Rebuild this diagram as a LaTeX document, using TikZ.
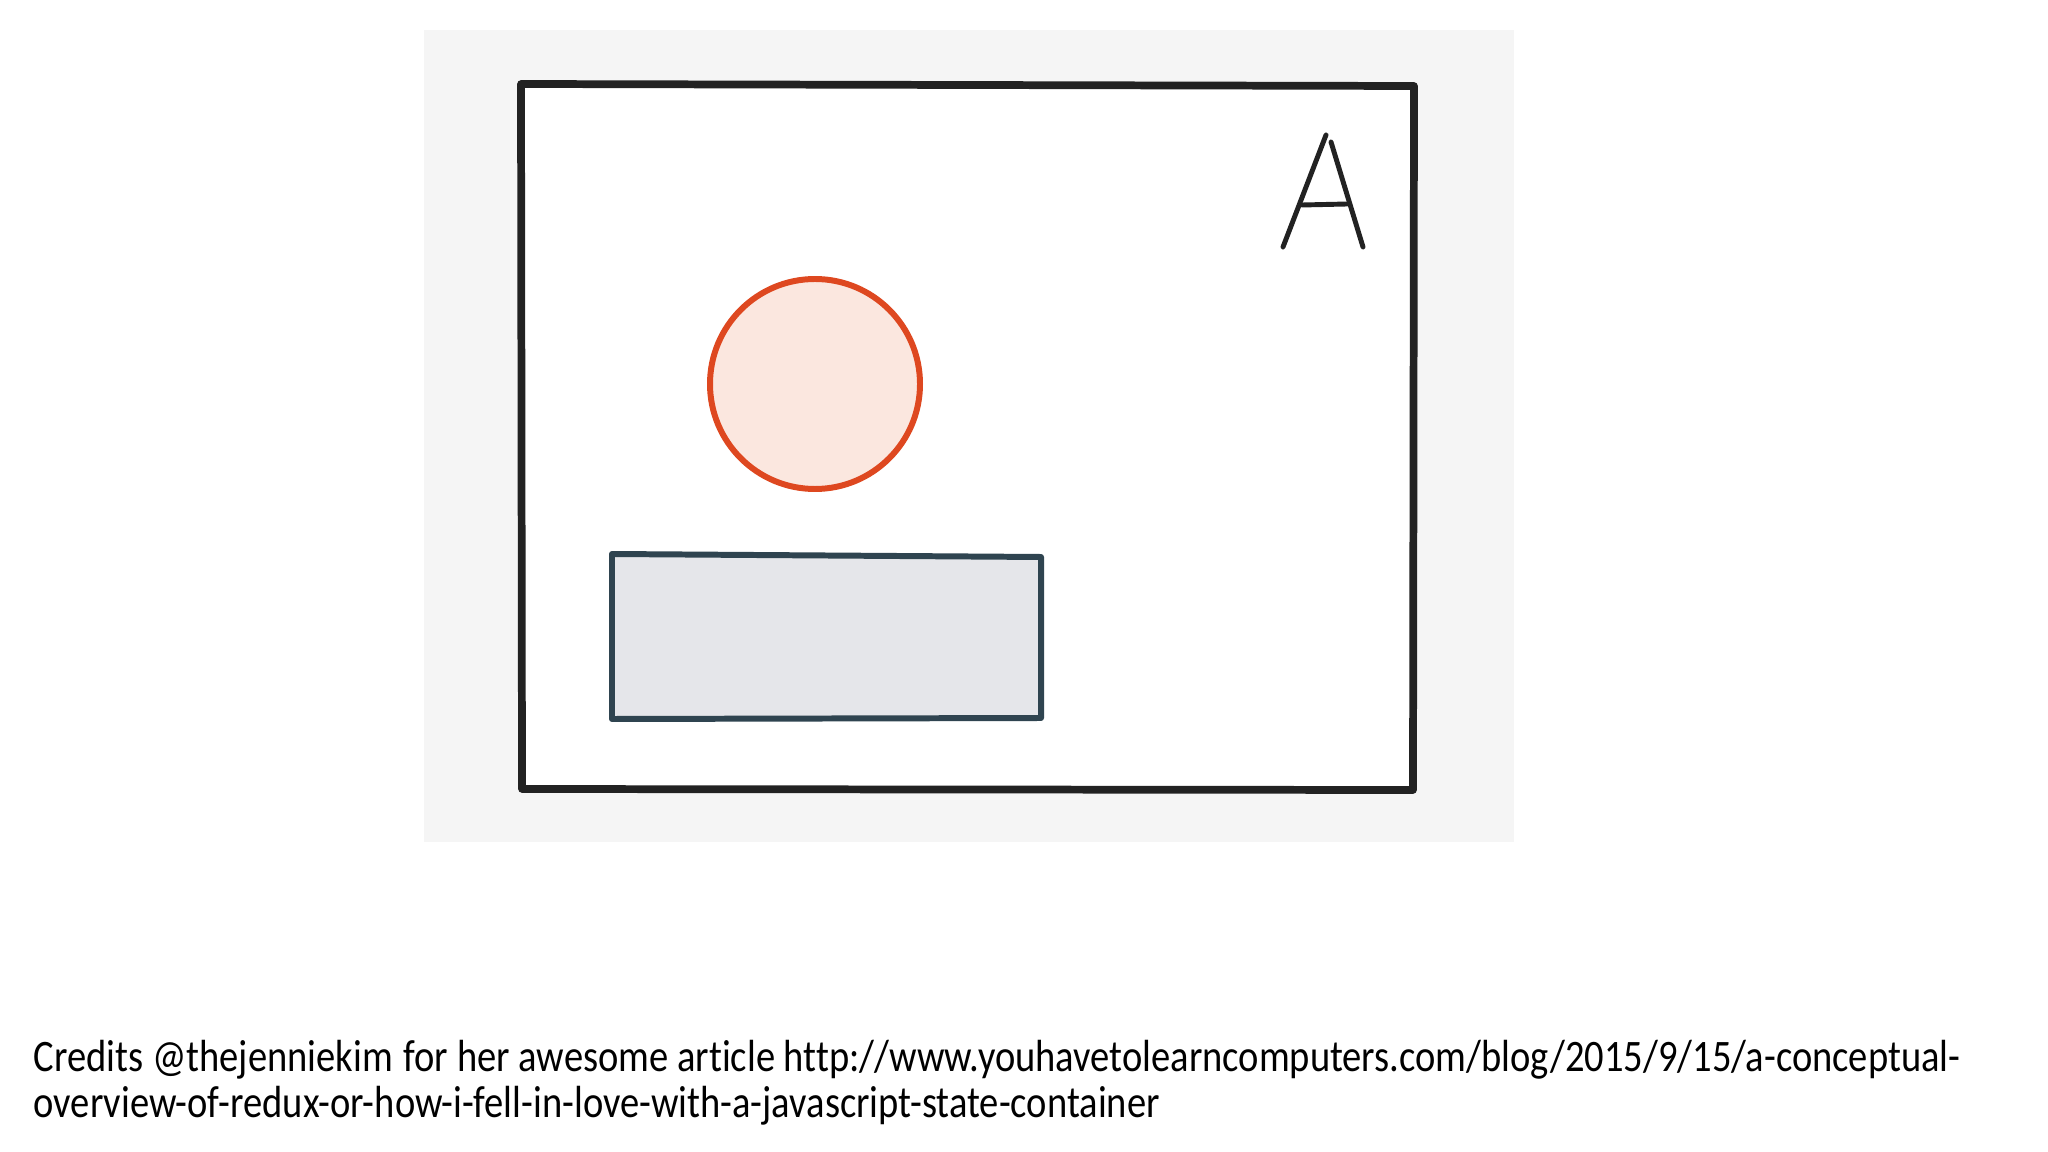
\documentclass[tikz,border=0pt]{standalone}
\usepackage{fontspec}
\setmainfont{Carlito}
\newfontfamily\creditsfont[FakeStretch=0.856, Ligatures=NoCommon]{Carlito}
\usepackage{tikz}
\definecolor{fondo}{RGB}{245,245,245}
\definecolor{marco}{RGB}{34,34,34}
\definecolor{rojizo}{RGB}{222,72,32}
\definecolor{rosado}{RGB}{251,231,223}
\definecolor{pizarra}{RGB}{47,68,80}
\definecolor{grisazul}{RGB}{229,230,234}

\begin{document}
\begin{tikzpicture}[x=0.01cm, y=-0.01cm]
    \useasboundingbox (0,0) rectangle (2048,1152);

    % FONDO
    \fill[fondo] (424,30) rectangle (1514,842);

    % MARCO
    \filldraw[color=marco, fill=white, line width=2.2pt, line join=round] (521,84) -- (1414,86) -- (1413,790) -- (522,789) -- cycle;

    % LETRA A
    \draw[marco, line width=1.4pt, line cap=round] (1283,247) -- (1326,135);
    \draw[marco, line width=1.4pt, line cap=round] (1331,142) -- (1363,247);
    \draw[marco, line width=1.4pt, line cap=round] (1302,205) -- (1347,204);

    % CIRCULO
    \filldraw[color=rojizo, fill=rosado, line width=1.7pt] (815,384) circle (105);

    % RECTANGULO
    \filldraw[color=pizarra, fill=grisazul, line width=1.7pt, line join=round] (612,554) -- (1041,557) -- (1041,718) -- (612,719) -- cycle;

    % CREDITOS
    \node[anchor=base west, inner sep=0pt, font=\creditsfont\fontsize{12.8}{15}\selectfont] (credits1) at (33,1071) {Credits @thejenniekim\hspace{0.6pt} for her awesome article http://www.youhavetolearncomputers.com/blog/2015/9/15/a-conceptual-};
    \node[anchor=base west, inner sep=0pt, font=\creditsfont\fontsize{12.8}{15}\selectfont] (credits2) at (33,1117) {overview-of-redux-or-how-i-fell-in-love-with-a-javascript-state-container};

\end{tikzpicture}
\end{document}
